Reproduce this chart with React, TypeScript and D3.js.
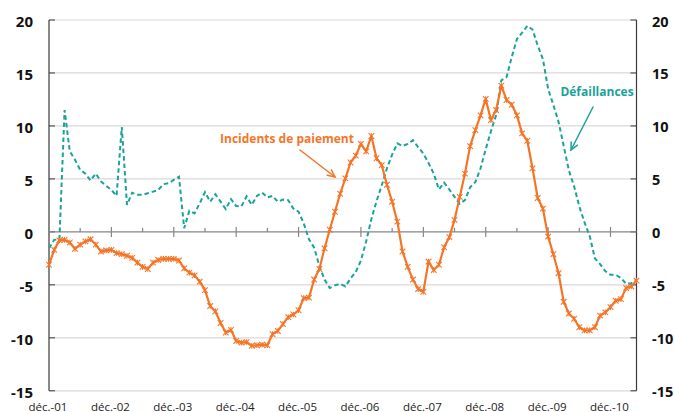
import React from "react";
import * as d3 from "d3";

// Monthly data, déc. 2001 → mai 2011
const incidents: number[] = [
  -3.1, -1.7, -0.8, -0.75, -1.0, -1.6, -1.2, -0.9, -0.7, -1.2, -1.85, -1.75,
  -1.7, -2.0, -2.1, -2.25, -2.45, -2.9, -3.3, -3.5, -2.9, -2.65, -2.55, -2.55,
  -2.55, -2.7, -3.45, -3.85, -4.1, -4.7, -5.5, -7.0, -7.5, -8.6, -9.5, -9.25,
  -10.3, -10.45, -10.4, -10.75, -10.7, -10.65, -10.7, -9.65, -9.35, -8.7, -8.05, -7.8,
  -7.4, -6.25, -6.2, -4.5, -3.5, -1.55, 0.2, 1.9, 3.6, 5.05, 6.55, 7.2,
  8.3, 7.6, 9.05, 6.95, 6.3, 4.45, 2.85, 0.97, -1.85, -3.3, -4.5, -5.4,
  -5.65, -2.8, -3.6, -3.1, -1.45, -0.5, 1.13, 3.3, 5.5, 8.1, 9.6, 11.0,
  12.55, 10.55, 11.5, 13.8, 12.45, 12.0, 11.0, 9.3, 8.6, 6.0, 3.2, 2.2,
  -0.45, -2.1, -3.9, -6.6, -7.7, -8.2, -9.0, -9.3, -9.3, -9.0, -7.9, -7.6,
  -7.1, -6.5, -6.35, -5.3, -5.15, -4.6,
];

const defaillances: number[] = [
  -1.55, -0.75, -0.7, 11.5, 7.6, 6.8, 5.85, 5.5, 4.85, 5.5, 4.75, 4.35,
  3.95, 3.4, 9.9, 2.55, 3.7, 3.5, 3.5, 3.65, 3.8, 3.95, 4.5, 4.6,
  4.9, 5.2, 0.35, 2.0, 1.75, 2.7, 3.75, 2.85, 3.55, 2.85, 2.15, 3.1,
  2.45, 2.4, 3.35, 2.55, 3.4, 3.7, 3.25, 3.4, 2.85, 3.05, 3.0, 2.2,
  1.9, 0.8, -0.7, -1.5, -3.2, -4.5, -5.3, -5.05, -4.9, -5.15, -4.4, -3.8,
  -2.7, -0.9, 1.2, 2.9, 4.4, 6.0, 7.3, 8.35, 8.1, 8.3, 8.65, 8.0,
  7.4, 6.5, 5.5, 4.0, 4.65, 4.0, 3.3, 2.65, 3.0, 4.2, 4.7, 6.0,
  7.8, 9.5, 11.0, 14.3, 14.6, 16.5, 18.2, 18.8, 19.45, 19.1, 17.6, 16.3,
  13.5, 12.0, 10.4, 8.1, 5.8, 4.3, 2.4, 0.9, -0.4, -2.5, -3.05, -3.7,
  -4.05, -4.05, -4.35, -4.9, -4.85, -4.5,
];

const tickLabels: string[] = [
  "déc.-01", "déc.-02", "déc.-03", "déc.-04", "déc.-05",
  "déc.-06", "déc.-07", "déc.-08", "déc.-09", "déc.-10",
];

const yTicks: number[] = [20, 15, 10, 5, 0, -5, -10, -15];

const ORANGE = "#f47528";
const TEAL = "#1ba39a";
const W = 674;
const H = 412;

export default function App() {
  const n = incidents.length;
  const x = d3.scaleLinear().domain([0, n - 1]).range([49, 636.5]);
  const y = d3.scaleLinear().domain([-15, 20]).range([390.8, 20]);
  const left = 49;
  const right = 636.5;

  const line = d3
    .line<number>()
    .x((_, i) => x(i))
    .y((d) => y(d));

  const majorIdx = tickLabels.map((_, k) => k * 12);
  const minorIdx = tickLabels.map((_, k) => k * 12 + 6).filter((i) => i < n);

  const font = "'Open Sans', 'DejaVu Sans', sans-serif";

  const arrow = (x1: number, y1: number, x2: number, y2: number, color: string) => {
    const a = Math.atan2(y2 - y1, x2 - x1);
    const L = 8;
    const sp = 0.45;
    const p1 = [x2 - L * Math.cos(a - sp), y2 - L * Math.sin(a - sp)];
    const p2 = [x2 - L * Math.cos(a + sp), y2 - L * Math.sin(a + sp)];
    return (
      <g stroke={color} strokeWidth={1.5} fill="none" strokeLinecap="round">
        <line x1={x1} y1={y1} x2={x2} y2={y2} />
        <polyline points={`${p1[0]},${p1[1]} ${x2},${y2} ${p2[0]},${p2[1]}`} />
      </g>
    );
  };

  return (
    <svg
      width={W}
      height={H}
      style={{ position: "absolute", left: 0, top: 0, background: "#fff" }}
      fontFamily={font}
    >
      {/* gridlines */}
      {yTicks
        .filter((t) => t !== 0)
        .map((t) => (
          <line key={t} x1={left} x2={right} y1={y(t)} y2={y(t)} stroke="#d9d9d9" strokeWidth={1.2} />
        ))}
      {/* axes */}
      <line x1={left} x2={left} y1={y(20)} y2={y(-15)} stroke="#3a3a3a" strokeWidth={1.2} />
      <line x1={right} x2={right} y1={y(20)} y2={y(-15)} stroke="#3a3a3a" strokeWidth={1.2} />
      {yTicks.map((t) => (
        <g key={"t" + t}>
          <line x1={left} x2={left + 6} y1={y(t)} y2={y(t)} stroke="#3a3a3a" strokeWidth={1} />
          <line x1={right - 6} x2={right} y1={y(t)} y2={y(t)} stroke="#3a3a3a" strokeWidth={1} />
          <text x={33} y={y(t) + 1} textAnchor="end" dominantBaseline="central" fontSize={15} fontWeight="bold" fill="#111">
            {t}
          </text>
          <text x={652} y={y(t) + 1} textAnchor="start" dominantBaseline="central" fontSize={14.5} fontWeight="bold" fill="#111">
            {t}
          </text>
        </g>
      ))}
      {/* zero line with ticks */}
      <line x1={left} x2={right} y1={y(0)} y2={y(0)} stroke="#868686" strokeWidth={1.2} />
      {majorIdx.map((i) => (
        <line key={"M" + i} x1={x(i)} x2={x(i)} y1={y(0) - 5} y2={y(0) + 5} stroke="#868686" strokeWidth={1.2} />
      ))}
      {minorIdx.map((i) => (
        <line key={"m" + i} x1={x(i)} x2={x(i)} y1={y(0) - 4} y2={y(0)} stroke="#868686" strokeWidth={1.2} />
      ))}
      {/* category labels */}
      {tickLabels.map((lab, k) => (
        <text key={lab} x={x(majorIdx[k]) - 1} y={410.5} textAnchor="middle" fontSize={11.5} fill="#222">
          {lab}
        </text>
      ))}
      {/* series */}
      <path d={line(defaillances) || ""} fill="none" stroke={TEAL} strokeWidth={2} strokeDasharray="4.5 3" />
      <path d={line(incidents) || ""} fill="none" stroke={ORANGE} strokeWidth={2.2} strokeLinejoin="round" />
      {incidents.map((v, i) => {
        const cx = x(i);
        const cy = y(v);
        const s = 2.8;
        return (
          <g key={"mk" + i} stroke={ORANGE} strokeWidth={1.1}>
            <line x1={cx - s} y1={cy - s} x2={cx + s} y2={cy + s} />
            <line x1={cx - s} y1={cy + s} x2={cx + s} y2={cy - s} />
            <line x1={cx} y1={cy - s} x2={cx} y2={cy + s} />
          </g>
        );
      })}
      {/* annotations */}
      <text x={287} y={143} textAnchor="middle" fontSize={12} fontWeight="bold" fill={ORANGE}>
        Incidents de paiement
      </text>
      {arrow(300, 150, 335, 177, ORANGE)}
      <text x={597} y={96} textAnchor="middle" fontSize={12} fontWeight="bold" fill={TEAL}>
        Défaillances
      </text>
      {arrow(593, 107, 571, 150, TEAL)}
    </svg>
  );
}
